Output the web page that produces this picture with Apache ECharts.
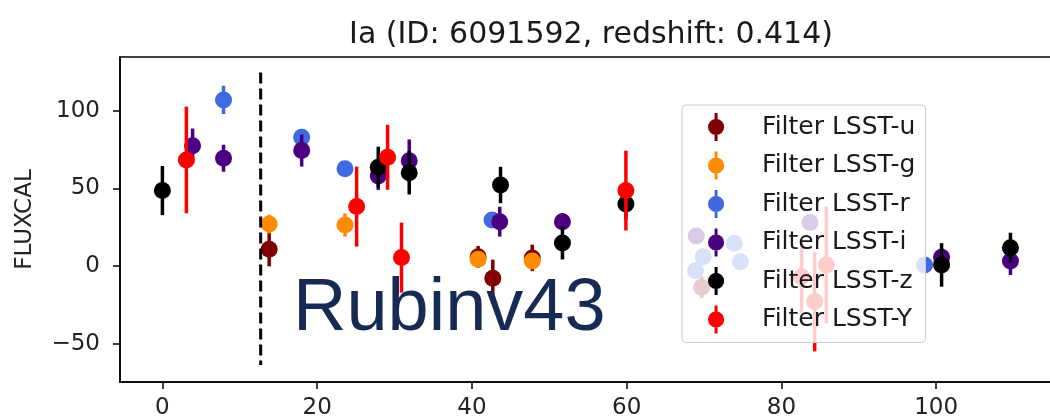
<!DOCTYPE html>
<html>
<head>
<meta charset="utf-8">
<script src="https://cdn.jsdelivr.net/npm/echarts@6/dist/echarts.min.js"></script>
<style>html,body{margin:0;padding:0;background:#fff;}#c{width:1050px;height:420px;}</style>
</head>
<body>
<div id="c"></div>
<script>
// ---- data ----
const filterNames = ['Filter LSST-u','Filter LSST-g','Filter LSST-r','Filter LSST-i','Filter LSST-z','Filter LSST-Y'];
const filterColors = ['#800000','#ff8c00','#4169e1','#4b0082','#000000','#ff0000'];

const uDays = [13.8, 40.8, 42.7, 47.8, 69.7];
const uFlux = [10.9, 6, -7.8, 5.3, -13.6];
const uErr  = [11, 7, 12, 8.5, 7];

const gDays = [13.8, 23.6, 40.8, 47.8];
const gFlux = [27.1, 26.5, 4.4, 3.3];
const gErr  = [6, 7.5, 4, 4];

const rDays = [7.9, 18, 23.6, 42.6, 68.9, 69.9, 73.9, 74.7, 98.5];
const rFlux = [106.9, 82.9, 62.7, 29.7, -2.9, 6.1, 14.7, 2.9, 0.8];
const rErr  = [9.1, 4, 3, 3, 3, 3, 3, 3, 3];

const iDays = [3.9, 7.9, 18, 27.9, 31.9, 43.6, 51.7, 69, 83.7, 100.7, 109.6];
const iFlux = [77.5, 69.4, 74.3, 58, 67.8, 28.6, 28.6, 19.4, 28, 5.7, 3.3];
const iErr  = [11, 8.7, 10.3, 9, 13.7, 9.6, 5.5, 5, 4, 6, 9];

const zDays = [0, 27.9, 31.9, 43.7, 51.7, 59.9, 100.7, 109.6];
const zFlux = [48.6, 63.6, 60.1, 52.2, 14.9, 40, 0.8, 11.9];
const zErr  = [15.8, 13.2, 14, 11.7, 10.6, 10, 14, 9.6];

const yDays = [3.1, 25.1, 29.1, 30.9, 59.9, 82.6, 84.3, 85.8];
const yFlux = [68.3, 38.3, 70, 5.5, 48.6, -6.8, -22.8, 0.8];
const yErr  = [34.3, 25.7, 20.9, 22.5, 25.7, 23, 32, 37.5];

const peakDay = 12.7;
const peakLineRange = [124.6, -63.5];

const xTicks = [0, 20, 40, 60, 80, 100];
const yTicks = [-50, 0, 50, 100];

const titleText = 'Ia (ID: 6091592, redshift: 0.414)';
const yName = 'FLUXCAL';
const watermark = 'Rubinv43';
// --------------------------------------

const groups = [
  [uDays, uFlux, uErr], [gDays, gFlux, gErr], [rDays, rFlux, rErr],
  [iDays, iFlux, iErr], [zDays, zFlux, zErr], [yDays, yFlux, yErr]
];

const legendIcon = 'path://M8,6.5 A7.5,7.5 0 1,1 7.99,6.5 Z M6.6,1 L9.4,1 L9.4,27 L6.6,27 Z';

function renderErr(params, api) {
  const x = api.value(0), y = api.value(1), e = api.value(2);
  const c = api.coord([x, y]);
  const lo = api.coord([x, y - e]);
  const hi = api.coord([x, y + e]);
  const color = api.visual('color');
  return {
    type: 'group',
    children: [
      { type: 'line', shape: { x1: lo[0], y1: lo[1], x2: hi[0], y2: hi[1] },
        style: { stroke: color, lineWidth: 3.5 } },
      { type: 'circle', shape: { cx: c[0], cy: c[1], r: 8.5 },
        style: { fill: color } }
    ]
  };
}

const series = [{
  type: 'line',
  name: 'peak',
  data: [[peakDay, peakLineRange[0]], [peakDay, peakLineRange[1]]],
  showSymbol: false,
  symbol: 'none',
  silent: true,
  lineStyle: { color: '#000', width: 3, type: [11, 5] },
  z: 2
}];

groups.forEach((g, k) => {
  series.push({
    type: 'custom',
    name: filterNames[k],
    renderItem: renderErr,
    itemStyle: { color: filterColors[k] },
    data: g[0].map((d, j) => [d, g[1][j], g[2][j]]),
    encode: { x: 0, y: 1 },
    clip: true,
    z: 2
  });
});

const minusFmt = v => String(v).replace('-', '\u2212');

const chart = echarts.init(document.getElementById('c'), null, { renderer: 'canvas' });
chart.setOption({
  animation: false,
  backgroundColor: '#fff',
  title: {
    text: titleText,
    left: 586, top: 15, textAlign: 'center',
    textStyle: { fontFamily: 'DejaVu Sans', fontSize: 30, fontWeight: 'normal', color: '#1a1a1a' }
  },
  grid: {
    left: 120, top: 57, right: -3, bottom: 38,
    show: true, borderColor: '#000', borderWidth: 1.5,
    outerBoundsMode: 'none'
  },
  legend: {
    data: filterNames.map(n => ({ name: n, icon: legendIcon })),
    orient: 'vertical',
    left: 682, top: 105,
    padding: [8, 10, 9, 26],
    itemWidth: 40, itemHeight: 28, itemGap: 10.5,
    backgroundColor: 'rgba(255,255,255,0.8)',
    borderColor: '#cccccc', borderWidth: 1, borderRadius: 4,
    selectedMode: false,
    textStyle: { fontFamily: 'DejaVu Sans', fontSize: 25, color: '#1a1a1a', padding: [0, 0, 0, 21], lineHeight: 28 },
    z: 10
  },
  xAxis: {
    type: 'value', min: -5.48, max: 115.1,
    splitLine: { show: false },
    axisLine: { show: true, onZero: false, lineStyle: { color: '#000', width: 1.5 } },
    axisTick: { show: true, length: 7, lineStyle: { color: '#000', width: 1.5 }, customValues: xTicks },
    axisLabel: { customValues: xTicks, margin: 15, fontFamily: 'DejaVu Sans', fontSize: 23, color: '#222' }
  },
  yAxis: {
    type: 'value', min: -74.5, max: 134.5,
    name: yName, nameLocation: 'middle', nameGap: 83, nameRotate: 90,
    nameTextStyle: { fontFamily: 'DejaVu Sans', fontSize: 23, color: '#222' },
    splitLine: { show: false },
    axisLine: { show: true, onZero: false, lineStyle: { color: '#000', width: 1.5 } },
    axisTick: { show: true, length: 7, lineStyle: { color: '#000', width: 1.5 }, customValues: yTicks },
    axisLabel: { customValues: yTicks, formatter: minusFmt, margin: 20, fontFamily: 'DejaVu Sans', fontSize: 23, color: '#222' }
  },
  graphic: [{
    type: 'text', left: 293, top: 273, z: 20, silent: true,
    style: { text: watermark, fontFamily: 'Liberation Sans', fontSize: 74, fill: '#172a54' }
  }],
  series: series
});
</script>
</body>
</html>
